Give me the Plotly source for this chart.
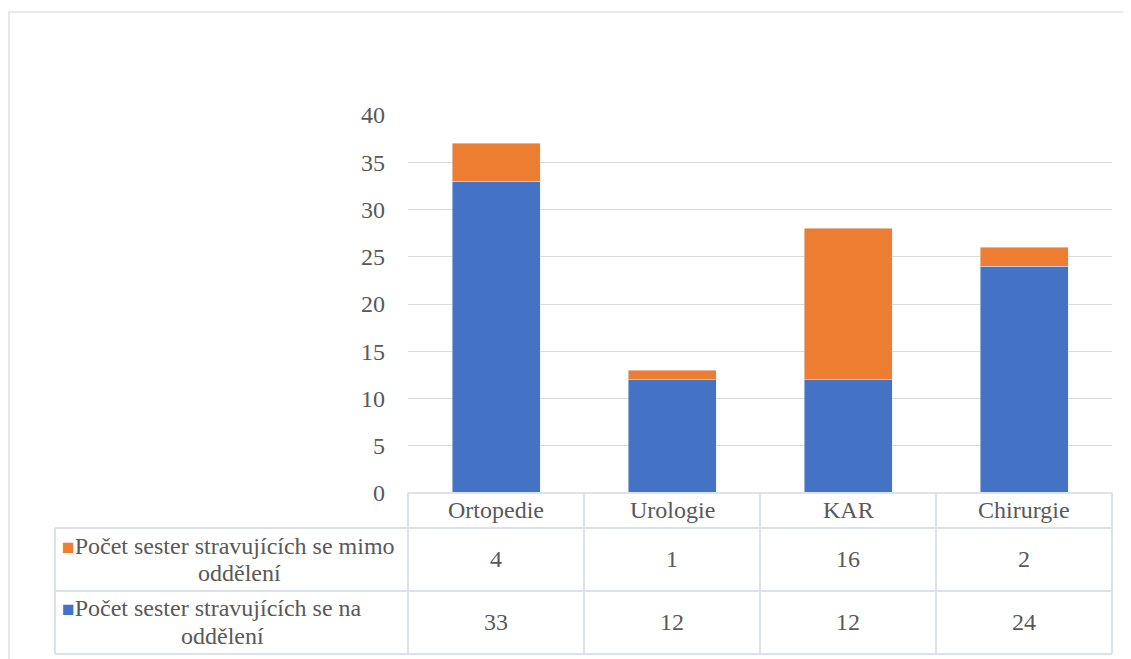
import plotly.graph_objects as go

# data
categories = ["Ortopedie", "Urologie", "KAR", "Chirurgie"]
series_names = [
    "Počet sester stravujících se mimo oddělení",
    "Počet sester stravujících se na oddělení",
]
mimo = [4, 1, 16, 2]
na = [33, 12, 12, 24]
y_ticks = [0, 5, 10, 15, 20, 25, 30, 35, 40]

W, H = 1131, 659
OFF = 8  # page body margin
BLUE = "#4472C4"
ORANGE = "#ED7D31"
TEXT = "#595959"
GRID = "#d9d9d9"
LINE = "#dde2e8"
FONT = "Times New Roman, Liberation Serif, DejaVu Serif, serif"
FS = 24


def px(x):
    return (x - OFF) / W


def py(y):
    # screen pixel from top -> paper fraction
    return (H - (y - OFF)) / H


# plot area in screen pixels
x0, x1 = 408, 1112
y_top, y_bot = 115, 493
row_y = [493, 528, 591, 654]
left_x = 55

fig = go.Figure()

fig.add_trace(
    go.Bar(x=categories, y=na, name=series_names[1], marker=dict(color=BLUE))
)
fig.add_trace(
    go.Bar(x=categories, y=mimo, name=series_names[0], marker=dict(color=ORANGE))
)

shapes = []
# outer chart border
shapes.append(dict(type="rect", xref="paper", yref="paper",
                   x0=px(9), x1=px(1160), y0=py(12), y1=py(700),
                   line=dict(color=LINE, width=1.5)))

# data table grid
for i, yy in enumerate(row_y):
    shapes.append(dict(type="line", xref="paper", yref="paper",
                       x0=px(x0 if i == 0 else left_x), x1=px(x1),
                       y0=py(yy), y1=py(yy),
                       line=dict(color=LINE, width=2)))
col_w = (x1 - x0) / len(categories)
for j in range(len(categories) + 1):
    xx = x0 + j * col_w
    shapes.append(dict(type="line", xref="paper", yref="paper",
                       x0=px(xx), x1=px(xx), y0=py(row_y[0]), y1=py(row_y[-1]),
                       line=dict(color=LINE, width=2)))
shapes.append(dict(type="line", xref="paper", yref="paper",
                   x0=px(left_x), x1=px(left_x), y0=py(row_y[1]), y1=py(row_y[-1]),
                   line=dict(color=LINE, width=2)))

font = dict(size=FS, color=TEXT, family=FONT)
annotations = []
# header row with category names
for c in categories:
    annotations.append(dict(x=c, xref="x", xanchor="center", y=py(510), yref="paper",
                            yanchor="middle", text=c, showarrow=False, font=font))

# value rows with legend keys
rows = [(mimo, ORANGE, series_names[0], 546, 573, 559, 239),
        (na, BLUE, series_names[1], 608, 636, 622, 222)]
for vals, color, name, l1, l2, ymid, c2 in rows:
    for c, v in zip(categories, vals):
        annotations.append(dict(x=c, xref="x", xanchor="center", y=py(ymid), yref="paper",
                                yanchor="middle", text=str(v), showarrow=False, font=font))
    words = name.split(" ")
    line1 = (f'<span style="color:{color};font-size:21px">■</span>'
             + " ".join(words[:-1]))
    annotations.append(dict(x=px(60), xref="paper", xanchor="left", y=py(l1), yref="paper",
                            yanchor="middle", text=line1, showarrow=False, font=font))
    annotations.append(dict(x=px(c2), xref="paper", xanchor="center", y=py(l2), yref="paper",
                            yanchor="middle", text=words[-1], showarrow=False, font=font))

fig.update_layout(
    barmode="stack",
    bargap=0.5,
    width=W,
    height=H,
    margin=dict(l=0, r=0, t=0, b=0, autoexpand=False),
    paper_bgcolor="white",
    plot_bgcolor="white",
    showlegend=False,
    font=dict(family=FONT, color=TEXT, size=FS),
    xaxis=dict(domain=[px(x0), px(x1)], showticklabels=False, showgrid=False,
               zeroline=False, showline=False, fixedrange=True, automargin=False),
    yaxis=dict(domain=[py(y_bot), py(y_top)], range=[0, 40], tickvals=y_ticks,
               showgrid=True, gridcolor=GRID, gridwidth=1, zeroline=False,
               showline=False, ticklabelstandoff=22, automargin=False,
               tickfont=font),
    shapes=shapes,
    annotations=annotations,
)

fig.write_html("out.html")
